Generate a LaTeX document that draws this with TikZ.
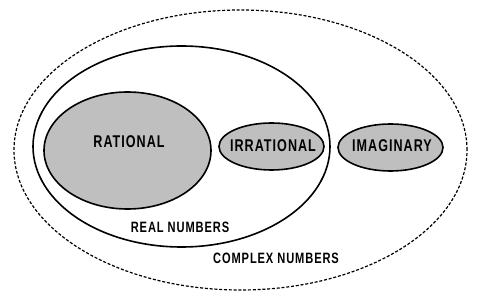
\documentclass[tikz,border=0pt]{standalone}
\usepackage{fontspec}
\newfontfamily\setfont{Liberation Sans}[FakeStretch=0.74,LetterSpace=6]
\usetikzlibrary{shapes.geometric}
\tikzset{
  set/.style={ellipse, draw, line width=1.6pt, inner sep=0pt},
  subset/.style={set, fill=black!25},
  universe/.style={ellipse, draw, dash pattern=on 3pt off 1.8pt, line width=1.2pt, inner sep=0pt},
  inlbl/.style={font=\setfont\bfseries\fontsize{17}{17}\selectfont, inner sep=0pt},
  setlbl/.style={font=\setfont\bfseries\fontsize{15}{15}\selectfont, inner sep=0pt}}
\begin{document}
\begin{tikzpicture}[x=1pt, y=-1pt]
  \useasboundingbox (0,0) rectangle (477,299);
  \node[universe, minimum width=453pt, minimum height=280pt] (complex) at (240.5,150) {};
  \node[set, minimum width=297pt, minimum height=201pt] (real) at (181.5,146.5) {};
  \node[subset, minimum width=167pt, minimum height=117pt] (rational) at (127.5,150.5) {};
  \node[subset, minimum width=105pt, minimum height=47pt] (irrational) at (271.5,146.5) {};
  \node[subset, minimum width=105pt, minimum height=47pt] (imaginary) at (390.5,147.5) {};
  \node[inlbl] (rationallbl) at (129,142) {RATIONAL};
  \node[inlbl] (irrationallbl) at (273,146) {IRRATIONAL};
  \node[inlbl] (imaginarylbl) at (392,146) {IMAGINARY};
  \node[setlbl] (reallbl) at (180,227) {REAL NUMBERS};
  \node[setlbl] (complexlbl) at (276,258) {COMPLEX NUMBERS};
\end{tikzpicture}
\end{document}
